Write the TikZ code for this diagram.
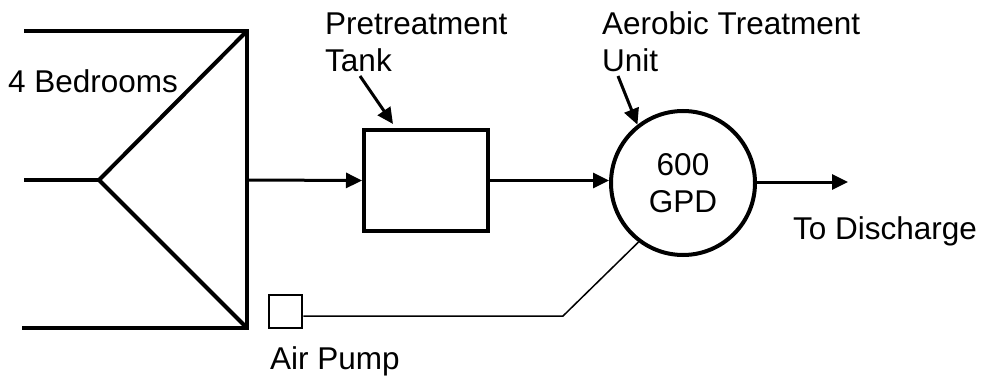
\documentclass[tikz,border=0pt]{standalone}
\usepackage{fontspec}
\setmainfont{Liberation Sans}
\usetikzlibrary{arrows.meta,calc}
\begin{document}
\begin{tikzpicture}[x=1pt,y=-1pt,
  every node/.style={font=\fontsize{31.5}{37}\selectfont},
  pipe/.style={line width=4pt, line cap=butt, line join=miter},
  flow/.style={line width=3pt, -{Triangle[length=16pt,width=15pt]}},
  lbl/.style={inner sep=0pt, anchor=base west, align=left},
  tankbox/.style={draw, line width=4pt, minimum width=124pt, minimum height=101pt, inner sep=0pt},
  unitcircle/.style={draw, circle, line width=4pt, minimum size=144pt, inner sep=0pt, align=center},
  pumpbox/.style={draw, line width=2.5pt, minimum width=33pt, minimum height=33pt, inner sep=0pt},
  airline/.style={line width=1.5pt}
]
\useasboundingbox (0,0) rectangle (988,377);
% junction coordinates
\coordinate (tl) at (24,31);
\coordinate (tr) at (247,31);
\coordinate (ml) at (24,180);
\coordinate (mj) at (99,180);
\coordinate (bl) at (22,328);
\coordinate (br) at (247,328);
\coordinate (vm) at (247,180);
% branches
\draw[pipe] (tl) -- (tr) -- (br) -- (bl);
\draw[pipe] (ml) -- (mj);
\draw[pipe] (tr) -- (mj) -- (br);
% tank
\node[tankbox] (tank) at (426,180.5) {};
% unit
\node[unitcircle] (unit) at (683,183) {600\\GPD};
% pump
\node[pumpbox] (pump) at (285.5,311.5) {};
% discharge end
\coordinate (out) at (848,182);
% flows
\draw[flow] (vm) -- (tank.west);
\draw[flow] (tank.east) -- (unit.west |- tank.east);
\draw[flow] (unit.east |- out) -- (out);
% labels
\node[lbl] (bed) at (8,93) {4 Bedrooms};
\node[lbl] (pre) at (325,72) {Pretreatment\\Tank};
\node[lbl] (atu) at (602,72) {Aerobic Treatment\\Unit};
\node[lbl] (dis) at (793,239) {To Discharge};
\node[lbl] (air) at (270,369) {Air Pump};
% label arrows
\coordinate (preS) at (360,76);
\coordinate (atuS) at (618,76);
\draw[flow] (preS) -- (393,124);
\draw[flow] (atuS) -- (unit.128);
% air line
\coordinate (bend) at (563,316);
\draw[airline] ([yshift=-4.5pt]pump.east) -- (bend) -- (unit.233);
\end{tikzpicture}
\end{document}
